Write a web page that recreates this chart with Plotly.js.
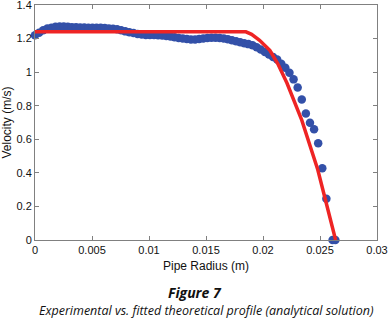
<!DOCTYPE html>
<html>
<head>
<meta charset="utf-8">
<script src="https://cdn.plot.ly/plotly-3.0.1.min.js"></script>
<style>html,body{margin:0;padding:0;background:#fff;}#chart{width:388px;height:319px;}</style>
</head>
<body>
<div id="chart"></div>
<script>
// Experimental data: pipe radius (m) and measured velocity (m/s)
var expRadius = [0, 0.00036, 0.00072, 0.00108, 0.00144, 0.0018, 0.00216, 0.00252, 0.00288, 0.00324,
  0.0036, 0.00396, 0.00432, 0.00468, 0.00504, 0.0054, 0.00576, 0.00612, 0.00648, 0.00684,
  0.0072, 0.00756, 0.00792, 0.00828, 0.00864, 0.009, 0.00936, 0.00972, 0.01008, 0.01044,
  0.0108, 0.01116, 0.01152, 0.01188, 0.01224, 0.0126, 0.01296, 0.01332, 0.01368, 0.01404,
  0.0144, 0.01476, 0.01512, 0.01548, 0.01584, 0.0162, 0.01656, 0.01692, 0.01728, 0.01764,
  0.018, 0.01836, 0.01872, 0.01908, 0.01944, 0.0198, 0.02016, 0.02052, 0.02088, 0.02124,
  0.0216, 0.02196, 0.02232, 0.02268, 0.02304, 0.0234, 0.02376, 0.02412, 0.02448, 0.02484,
  0.0252, 0.02556, 0.0261, 0.02635];
var expVelocity = [1.22, 1.235, 1.25, 1.26, 1.265, 1.27, 1.272, 1.272, 1.27, 1.268,
  1.267, 1.266, 1.266, 1.265, 1.265, 1.265, 1.264, 1.263, 1.26, 1.258,
  1.255, 1.25, 1.243, 1.238, 1.233, 1.228, 1.225, 1.222, 1.222, 1.222,
  1.22, 1.218, 1.215, 1.212, 1.208, 1.203, 1.2, 1.197, 1.195, 1.195,
  1.197, 1.2, 1.203, 1.205, 1.205, 1.203, 1.2, 1.196, 1.19, 1.184,
  1.178, 1.172, 1.167, 1.16, 1.148, 1.135, 1.12, 1.105, 1.09, 1.075,
  1.05, 1.026, 0.996, 0.957, 0.909, 0.837, 0.754, 0.698, 0.66, 0.577,
  0.427, 0.246, 0.0, 0.0];
// Fitted theoretical profile
var fitRadius = [0, 0.0185, 0.019, 0.0197, 0.0206, 0.0213, 0.0221, 0.0229, 0.0234, 0.0248, 0.02637];
var fitVelocity = [1.24, 1.24, 1.225, 1.19, 1.13, 1.05, 0.935, 0.8, 0.714, 0.42, 0];
var xTicks = [0, 0.005, 0.01, 0.015, 0.02, 0.025, 0.03];
var xTickText = ['0', '0.005', '0.01', '0.015', '0.02', '0.025', '0.03'];
var yTicks = [0, 0.2, 0.4, 0.6, 0.8, 1, 1.2, 1.4];
var yTickText = ['0', '0.2', '0.4', '0.6', '0.8', '1', '1.2', '1.4'];

var traces = [
  {x: expRadius, y: expVelocity, type: 'scatter', mode: 'markers',
   marker: {color: '#3350a8', size: 8.5, line: {width: 0}}, cliponaxis: false},
  {x: fitRadius, y: fitVelocity, type: 'scatter', mode: 'lines',
   line: {color: '#ee2424', width: 3.5}, cliponaxis: false}
];
var axisCommon = {showgrid: false, zeroline: false, showline: true, mirror: 'ticks',
  linecolor: '#808080', linewidth: 1, ticks: 'inside', ticklen: 4, tickcolor: '#808080',
  ticklabeloverflow: 'allow',
  tickfont: {family: 'Liberation Sans, Arial, sans-serif', size: 11, color: '#111'}};
var layout = {
  width: 388, height: 319,
  margin: {l: 35, r: 11, t: 5, b: 79},
  paper_bgcolor: '#fff', plot_bgcolor: '#fff',
  showlegend: false,
  xaxis: Object.assign({}, axisCommon, {range: [0, 0.03], tickvals: xTicks, ticktext: xTickText,
    title: {text: 'Pipe Radius (m)', standoff: 6, font: {family: 'Liberation Sans, Arial, sans-serif', size: 12, color: '#111'}}}),
  yaxis: Object.assign({}, axisCommon, {range: [0, 1.4001], tickvals: yTicks, ticktext: yTickText,
    title: {text: 'Velocity (m/s)', standoff: 8, font: {family: 'Liberation Sans, Arial, sans-serif', size: 12, color: '#111'}}}),
  annotations: [
    {text: '<b><i>Figure 7</i></b>', xref: 'paper', yref: 'paper', x: 0.468, y: 0, yanchor: 'middle', yshift: -52,
     showarrow: false, font: {family: 'Open Sans, sans-serif', size: 14, color: '#111'}},
    {text: '<i>Experimental vs. fitted theoretical profile (analytical solution)</i>', xref: 'paper', yref: 'paper', x: 0.5, y: 0, yanchor: 'middle', yshift: -70,
     showarrow: false, font: {family: 'Open Sans, sans-serif', size: 12.5, color: '#111'}}
  ]
};
Plotly.newPlot('chart', traces, layout, {displayModeBar: false, staticPlot: true});
</script>
</body>
</html>
